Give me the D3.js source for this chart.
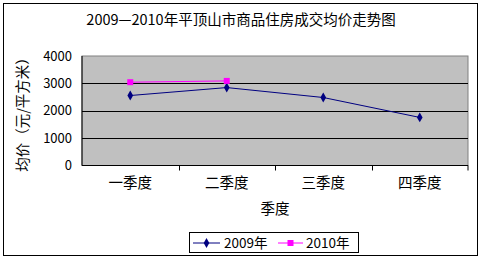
<!DOCTYPE html>
<html><head><meta charset="utf-8">
<script src="https://cdn.jsdelivr.net/npm/d3@7"></script>
<style>body{margin:0;background:#fff}svg{display:block}text{font-family:"Noto Sans CJK SC","DejaVu Sans",sans-serif;fill:#000}</style>
</head><body>
<svg id="c" width="483" height="261"></svg>
<script>
const categories = ["一季度","二季度","三季度","四季度"];
const series2009 = [2556, 2847, 2484, 1756];
const series2010 = [3043, 3090];
const yTicks = [0, 1000, 2000, 3000, 4000];
const seriesNames = ["2009年","2010年"];

const svg = d3.select("#c");
const L = 82, R = 468, T = 56, B = 165.5;
svg.append("rect").attr("x",3.5).attr("y",3.5).attr("width",474).attr("height",252).attr("fill","#fff").attr("stroke","#000");
svg.append("text").attr("x",241).attr("y",25).attr("text-anchor","middle").attr("font-size",14.5).text("2009—2010年平顶山市商品住房成交均价走势图");

const x = d3.scaleBand().domain(categories).range([L,R]);
const y = d3.scaleLinear().domain([0,4000]).range([B,T]);

svg.append("rect").attr("x",L).attr("y",T).attr("width",R-L).attr("height",B-T).attr("fill","#c0c0c0").attr("stroke","#808080");
svg.append("g").selectAll("line").data(yTicks.slice(1,4)).join("line")
  .attr("x1",L).attr("x2",R).attr("y1",d=>Math.round(y(d))+0.5).attr("y2",d=>Math.round(y(d))+0.5).attr("stroke","#000");

const yAxis = svg.append("g").attr("transform",`translate(${L},0)`).call(d3.axisLeft(y).tickValues(yTicks).tickFormat(d3.format("d")).tickSize(0).tickPadding(10));
yAxis.select(".domain").remove();
yAxis.selectAll("text").attr("font-size",13).style("font-family",'"Noto Sans CJK SC",sans-serif');

const xAxis = svg.append("g").attr("transform",`translate(0,${B})`).call(d3.axisBottom(x).tickSize(0).tickPadding(12));
xAxis.select(".domain").remove();
xAxis.selectAll("text").attr("font-size",14.5).style("font-family",'"Noto Sans CJK SC",sans-serif');
svg.append("line").attr("x1",L).attr("x2",R).attr("y1",B).attr("y2",B).attr("stroke","#000");
svg.append("line").attr("x1",L).attr("x2",L).attr("y1",T).attr("y2",B).attr("stroke","#000");
svg.append("g").selectAll("line").data(categories.slice(1)).join("line")
  .attr("x1",d=>Math.round(x(d))+0.5).attr("x2",d=>Math.round(x(d))+0.5).attr("y1",B).attr("y2",B+5).attr("stroke","#000");
svg.append("line").attr("x1",R).attr("x2",R).attr("y1",B).attr("y2",B+5).attr("stroke","#000");

svg.append("text").attr("x",275).attr("y",214).attr("text-anchor","middle").attr("font-size",14.5).text("季度");
svg.append("text").attr("transform","translate(28,111) rotate(-90)").attr("text-anchor","middle").attr("font-size",14.5).text("均价（元/平方米）");

const cx = d => x(d) + x.bandwidth()/2;
const line = d3.line().x((d,i)=>cx(categories[i])).y(d=>y(d));
svg.append("path").datum(series2009).attr("d",line).attr("fill","none").attr("stroke","#000080").attr("stroke-width",1);
svg.append("path").datum(series2010).attr("d",line).attr("fill","none").attr("stroke","#ff00ff").attr("stroke-width",1);
const diamond = d3.symbol().type(d3.symbolDiamond).size(28);
svg.append("g").selectAll("path").data(series2009).join("path")
  .attr("transform",(d,i)=>`translate(${cx(categories[i])},${y(d)})`).attr("d",diamond).attr("fill","#000080");
svg.append("g").selectAll("rect").data(series2010).join("rect")
  .attr("x",(d,i)=>cx(categories[i])-3).attr("y",d=>y(d)-3).attr("width",6).attr("height",6).attr("fill","#ff00ff");

// legend
const lg = svg.append("g");
lg.append("rect").attr("x",189.5).attr("y",232.5).attr("width",169).attr("height",20).attr("fill","#fff").attr("stroke","#000");
lg.append("line").attr("x1",193).attr("x2",220).attr("y1",243).attr("y2",243).attr("stroke","#000080");
lg.append("path").attr("transform","translate(206.5,243)").attr("d",diamond).attr("fill","#000080");
lg.append("text").attr("x",224).attr("y",248).attr("font-size",13.5).text(seriesNames[0]);
lg.append("line").attr("x1",278).attr("x2",303).attr("y1",243).attr("y2",243).attr("stroke","#ff00ff");
lg.append("rect").attr("x",287.5).attr("y",240).attr("width",6).attr("height",6).attr("fill","#ff00ff");
lg.append("text").attr("x",306).attr("y",248).attr("font-size",13.5).text(seriesNames[1]);
</script>
</body></html>
